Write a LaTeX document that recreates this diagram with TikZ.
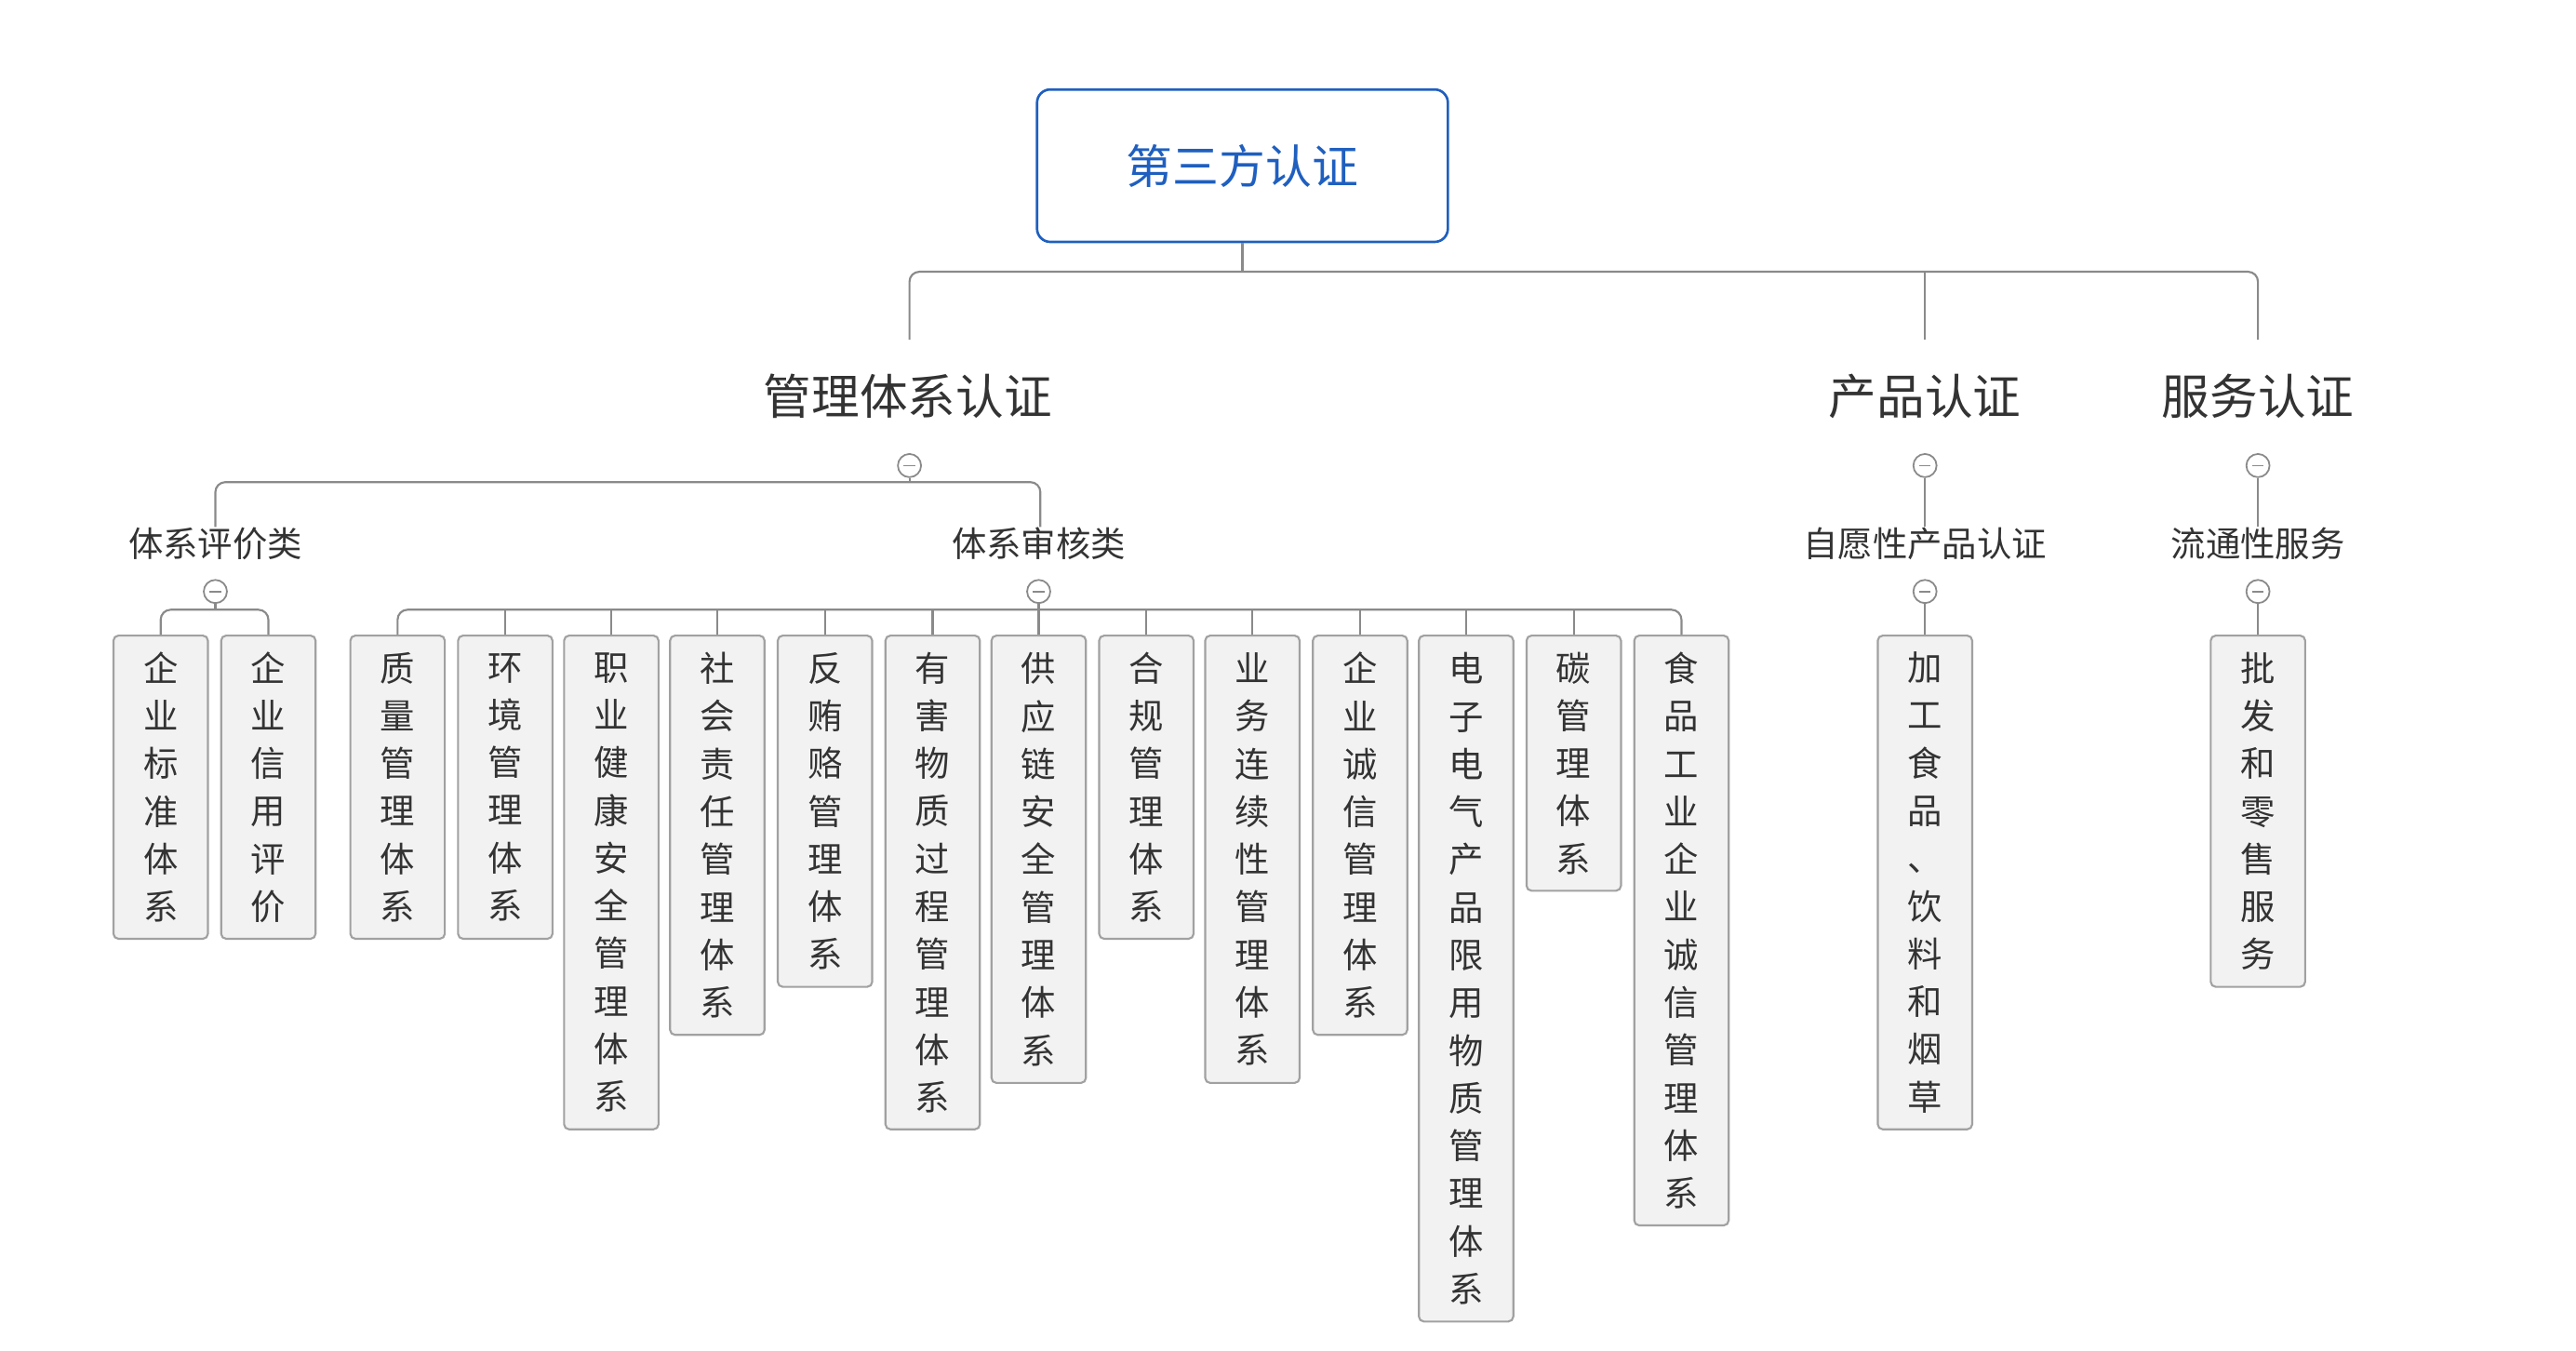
\documentclass[tikz,border=0pt]{standalone}
\usepackage{fontspec}
\setmainfont{Noto Sans CJK SC}
\definecolor{rootblue}{HTML}{1F5FBF}
\definecolor{ln}{HTML}{8A8A8A}
\definecolor{leaffill}{HTML}{F2F2F2}
\definecolor{txt}{HTML}{333333}
\begin{document}
\begin{tikzpicture}[x=1pt,y=-1pt,
  rootbox/.style={draw=rootblue,line width=1.5pt,rounded corners=8pt,minimum width=248pt,minimum height=92pt,text=rootblue,font=\fontsize{28}{32}\selectfont},
  lvlone/.style={text=txt,font=\fontsize{29}{33}\selectfont,inner sep=2pt},
  lvltwo/.style={text=txt,font=\fontsize{21}{25}\selectfont,inner sep=2pt},
  conn/.style={draw=ln,line width=1.2pt,rounded corners=6pt},
  collapse/.style={circle,draw=ln,fill=white,line width=1pt,minimum size=14pt,inner sep=0pt,
    path picture={\draw[ln,line width=1pt] ([xshift=-3.5pt]path picture bounding box.center)--([xshift=3.5pt]path picture bounding box.center);}},
  leaf/.style={draw=ln!80,fill=leaffill,line width=1.2pt,rounded corners=3pt,minimum width=57pt,anchor=north,align=center,text=txt,font=\fontsize{21}{28.8}\selectfont,inner sep=0pt}]
\useasboundingbox (0,0) rectangle (1555,815);
\node[rootbox] (root) at (750,100) {第三方认证};
\node[lvlone] (m) at (548,239) {管理体系认证};
\node[lvlone] (p) at (1162,239) {产品认证};
\node[lvlone] (s) at (1363,239) {服务认证};
\coordinate (mt) at (549,205);
\coordinate (pt) at (1162,205);
\coordinate (st) at (1363,205);
\draw[conn] (root.south) -- (750,164);
\draw[conn] (mt) |- (750,164) -| (st);
\draw[conn] (pt) -- (1162,164);
\node[collapse] (cm) at (549,281) {};
\node[collapse] (cp) at (1162,281) {};
\node[collapse] (cs) at (1363,281) {};
\node[lvltwo] (e) at (130,328) {体系评价类};
\node[lvltwo] (h) at (627,328) {体系审核类};
\node[lvltwo] (v) at (1162,328) {自愿性产品认证};
\node[lvltwo] (f) at (1363,328) {流通性服务};
\coordinate (et) at (130,318);
\coordinate (ht) at (628,318);
\draw[conn] (cm.south) -- (549,291);
\draw[conn] (et) |- (380,291) -| (ht);
\draw[conn] (cp.south) -- (1162,318);
\draw[conn] (cs.south) -- (1363,318);
\node[collapse] (ce) at (130,357) {};
\node[collapse] (ch) at (627,357) {};
\node[collapse] (cv) at (1162,357) {};
\node[collapse] (cf) at (1363,357) {};
\foreach \x/\n/\b/\t in {
 97/a1/566/{企\\业\\标\\准\\体\\系},
 162/a2/566/{企\\业\\信\\用\\评\\价},
 240/b1/566/{质\\量\\管\\理\\体\\系},
 305/b2/566/{环\\境\\管\\理\\体\\系},
 369/b3/681/{职\\业\\健\\康\\安\\全\\管\\理\\体\\系},
 433/b4/624/{社\\会\\责\\任\\管\\理\\体\\系},
 498/b5/595/{反\\贿\\赂\\管\\理\\体\\系},
 563/b6/681/{有\\害\\物\\质\\过\\程\\管\\理\\体\\系},
 627/b7/653/{供\\应\\链\\安\\全\\管\\理\\体\\系},
 692/b8/566/{合\\规\\管\\理\\体\\系},
 756/b9/653/{业\\务\\连\\续\\性\\管\\理\\体\\系},
 821/b10/624/{企\\业\\诚\\信\\管\\理\\体\\系},
 885/b11/797/{电\\子\\电\\气\\产\\品\\限\\用\\物\\质\\管\\理\\体\\系},
 950/b12/537/{碳\\管\\理\\体\\系},
 1015/b13/739/{食\\品\\工\\业\\企\\业\\诚\\信\\管\\理\\体\\系},
 1162/c1/681/{加\\工\\食\\品\\、\\饮\\料\\和\\烟\\草},
 1363/d1/595/{批\\发\\和\\零\\售\\服\\务}}{
  \node[leaf,minimum height={\b-383}] (\n) at (\x,383) {\t};
}
\draw[conn] (ce.south) -- (130,368);
\draw[conn] (a1.north) |- (130,368) -| (a2.north);
\draw[conn] (ch.south) -- (627,368);
\draw[conn] (b1.north) |- (600,368) -| (b13.north);
\foreach \n in {b2,b3,b4,b5,b6,b7,b8,b9,b10,b11,b12}{
  \draw[conn] (\n.north) -- ++(0,-15);
}
\draw[conn] (cv.south) -- (c1.north);
\draw[conn] (cf.south) -- (d1.north);
\end{tikzpicture}
\end{document}
